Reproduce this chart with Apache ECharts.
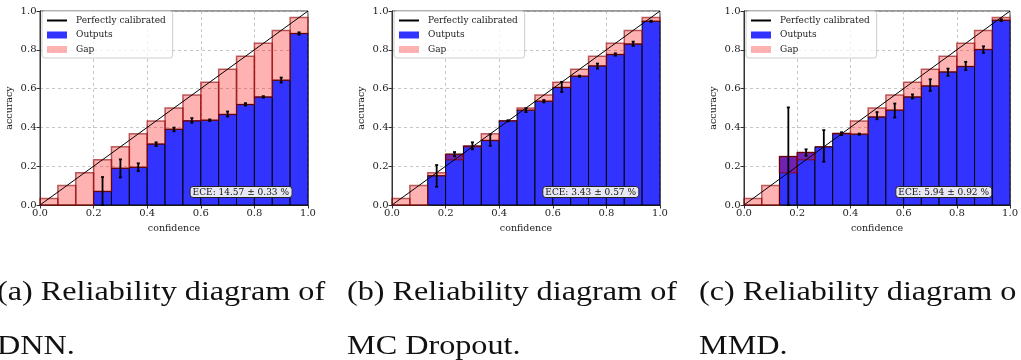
<!DOCTYPE html>
<html>
<head>
<meta charset="utf-8">
<script src="https://cdn.jsdelivr.net/npm/echarts@6/dist/echarts.min.js"></script>
<style>
html, body { margin: 0; padding: 0; background: #fff; }
#main { width: 1021px; height: 360px; }
</style>
</head>
<body>
<div id="main"></div>
<script>
// 15 equal confidence bins over [0, 1]
const binCount = 15;
const tickLabels = ['0.0', '0.2', '0.4', '0.6', '0.8', '1.0'];
const diag = [[0, 0], [1, 1]];

// (a) DNN
const accDNN = [0, 0, 0, 0.07, 0.189, 0.194, 0.314, 0.39, 0.434, 0.437, 0.467, 0.518, 0.557, 0.643, 0.884];
const loDNN  = [null, null, null, 0.0, 0.142, 0.175, 0.304, 0.38, 0.424, 0.433, 0.456, 0.513, 0.553, 0.631, 0.878];
const hiDNN  = [null, null, null, 0.144, 0.235, 0.215, 0.323, 0.399, 0.448, 0.441, 0.482, 0.525, 0.561, 0.657, 0.89];

// (b) MC Dropout
const accMC = [0, 0, 0.151, 0.262, 0.304, 0.333, 0.434, 0.489, 0.535, 0.606, 0.664, 0.717, 0.776, 0.83, 0.947];
const loMC  = [null, null, 0.094, 0.251, 0.287, 0.305, 0.431, 0.479, 0.529, 0.583, 0.661, 0.703, 0.77, 0.82, 0.944];
const hiMC  = [null, null, 0.206, 0.273, 0.323, 0.364, 0.437, 0.499, 0.541, 0.635, 0.667, 0.729, 0.782, 0.842, 0.95];

// (c) MMD
const accMMD = [0, 0, 0.25, 0.271, 0.30, 0.369, 0.365, 0.454, 0.489, 0.557, 0.614, 0.686, 0.714, 0.801, 0.952];
const loMMD  = [null, null, 0.0, 0.254, 0.223, 0.36, 0.362, 0.442, 0.451, 0.549, 0.588, 0.666, 0.695, 0.784, 0.948];
const hiMMD  = [null, null, 0.503, 0.287, 0.386, 0.375, 0.368, 0.479, 0.523, 0.57, 0.648, 0.703, 0.738, 0.818, 0.958];

const eceLabels = ['ECE: 14.57 ± 0.33 %', 'ECE: 3.43 ± 0.57 %', 'ECE: 5.94 ± 0.92 %'];
const captions = [
    ['(a) Reliability diagram of', 'DNN.'],
    ['(b) Reliability diagram of', 'MC Dropout.'],
    ['(c) Reliability diagram o', 'MMD.']
];

const panels = [
    {acc: accDNN, lo: loDNN, hi: hiDNN},
    {acc: accMC, lo: loMC, hi: hiMC},
    {acc: accMMD, lo: loMMD, hi: hiMMD}
];

const serif = 'DejaVu Serif';
const gridLeft = [40, 392, 744];
const gridWidth = [268, 268, 269];
const eceRight = [729, 382, 29];
const captionX = [-3, 347, 699];

function outputsItem(params, api) {
    const i = api.value(0);
    const a = api.value(1);
    if (!a) {
        return null;
    }
    const p0 = api.coord([i / binCount, 0]);
    const p1 = api.coord([(i + 1) / binCount, a]);
    return {
        type: 'rect',
        shape: {x: p0[0], y: p1[1], width: p1[0] - p0[0], height: p0[1] - p1[1]},
        style: {fill: '#3333ff', stroke: '#000', lineWidth: 1}
    };
}

function gapItem(params, api) {
    const i = api.value(0);
    const a = api.value(1);
    const mid = (i + 0.5) / binCount;
    const p0 = api.coord([i / binCount, a]);
    const p1 = api.coord([(i + 1) / binCount, mid]);
    return {
        type: 'rect',
        shape: {
            x: p0[0],
            y: Math.min(p0[1], p1[1]),
            width: p1[0] - p0[0],
            height: Math.abs(p0[1] - p1[1])
        },
        style: {fill: 'rgba(255,0,0,0.3)', stroke: 'rgba(140,0,0,0.6)', lineWidth: 1.5}
    };
}

function errItem(params, api) {
    const x = (api.value(0) + 0.5) / binCount;
    const top = api.coord([x, api.value(2)]);
    const bot = api.coord([x, api.value(1)]);
    const cap = 1.5;
    const style = {stroke: '#000', lineWidth: 1.8};
    return {
        type: 'group',
        children: [
            {type: 'line', shape: {x1: top[0], y1: top[1], x2: bot[0], y2: bot[1]}, style: style},
            {type: 'line', shape: {x1: top[0] - cap, y1: top[1], x2: top[0] + cap, y2: top[1]}, style: style},
            {type: 'line', shape: {x1: bot[0] - cap, y1: bot[1], x2: bot[0] + cap, y2: bot[1]}, style: style}
        ]
    };
}

const grid = [];
const xAxis = [];
const yAxis = [];
const legend = [];
const title = [];
const series = [];
const graphic = [];

const axisBase = {
    type: 'value',
    min: 0,
    max: 1,
    interval: 0.2,
    nameLocation: 'middle',
    nameTextStyle: {fontFamily: serif, fontSize: 9.5, color: '#222'},
    axisLine: {show: true, lineStyle: {color: '#333', width: 1}},
    axisTick: {show: true, inside: false, length: 3.5, lineStyle: {color: '#333'}},
    axisLabel: {
        fontFamily: serif,
        fontSize: 10,
        color: '#222',
        margin: 3.5,
        formatter: v => tickLabels[Math.round(v * 5)]
    },
    splitLine: {show: true, lineStyle: {color: '#b8b8b8', type: [3, 3], width: 0.8}}
};

panels.forEach((p, k) => {
    grid.push({
        left: gridLeft[k], top: 11, width: gridWidth[k], height: 194,
        show: true, borderColor: '#333', borderWidth: 1, backgroundColor: 'transparent'
    });
    xAxis.push(Object.assign({}, axisBase, {gridIndex: k, name: 'confidence', nameGap: 18}));
    yAxis.push(Object.assign({}, axisBase, {gridIndex: k, name: 'accuracy', nameGap: 25}));

    legend.push({
        left: gridLeft[k] + 2,
        top: 11,
        orient: 'vertical',
        itemWidth: 20,
        itemHeight: 7,
        itemGap: 5.5,
        padding: [5, 7, 4, 4],
        backgroundColor: 'rgba(255,255,255,0.8)',
        borderColor: '#ccc',
        borderWidth: 1,
        borderRadius: 3,
        selectedMode: false,
        textStyle: {fontFamily: serif, fontSize: 9, color: '#222', padding: [0, 0, 0, 4]},
        data: [
            {name: 'Perfectly calibrated', itemStyle: {opacity: 0}},
            {name: 'Outputs', icon: 'rect'},
            {name: 'Gap', icon: 'rect'}
        ]
    });

    title.push({
        text: eceLabels[k],
        right: eceRight[k],
        top: 186,
        padding: [2, 3, 1, 3],
        backgroundColor: '#e8e8f4',
        borderColor: '#222',
        borderWidth: 1,
        borderRadius: 3,
        textStyle: {fontFamily: serif, fontSize: 9, fontWeight: 'normal', color: '#111'}
    });

    series.push({
        name: 'Outputs',
        type: 'custom',
        xAxisIndex: k,
        yAxisIndex: k,
        itemStyle: {color: '#3333ff'},
        renderItem: outputsItem,
        data: p.acc.map((a, i) => [i, a])
    });
    series.push({
        name: 'Gap',
        type: 'custom',
        xAxisIndex: k,
        yAxisIndex: k,
        itemStyle: {color: 'rgba(255,0,0,0.3)'},
        renderItem: gapItem,
        data: p.acc.map((a, i) => [i, a])
    });
    series.push({
        name: 'Perfectly calibrated',
        type: 'line',
        xAxisIndex: k,
        yAxisIndex: k,
        symbol: 'none',
        silent: true,
        lineStyle: {color: '#000', width: 1},
        itemStyle: {color: '#000'},
        data: diag
    });
    series.push({
        name: 'err',
        type: 'custom',
        xAxisIndex: k,
        yAxisIndex: k,
        renderItem: errItem,
        data: p.lo.map((l, i) => [i, l, p.hi[i]]).filter(d => d[1] !== null)
    });

    captions[k].forEach((line, j) => {
        graphic.push({
            type: 'text',
            x: captionX[k],
            y: j === 0 ? 292.5 : 347,
            scaleX: 1.15,
            style: {
                text: line,
                font: '28px "Liberation Serif"',
                fill: '#111',
                verticalAlign: 'middle'
            }
        });
    });
});

const myChart = echarts.init(document.getElementById('main'), null, {renderer: 'canvas'});
myChart.setOption({
    animation: false,
    grid: grid,
    xAxis: xAxis,
    yAxis: yAxis,
    legend: legend,
    title: title,
    graphic: graphic,
    series: series
});
</script>
</body>
</html>
